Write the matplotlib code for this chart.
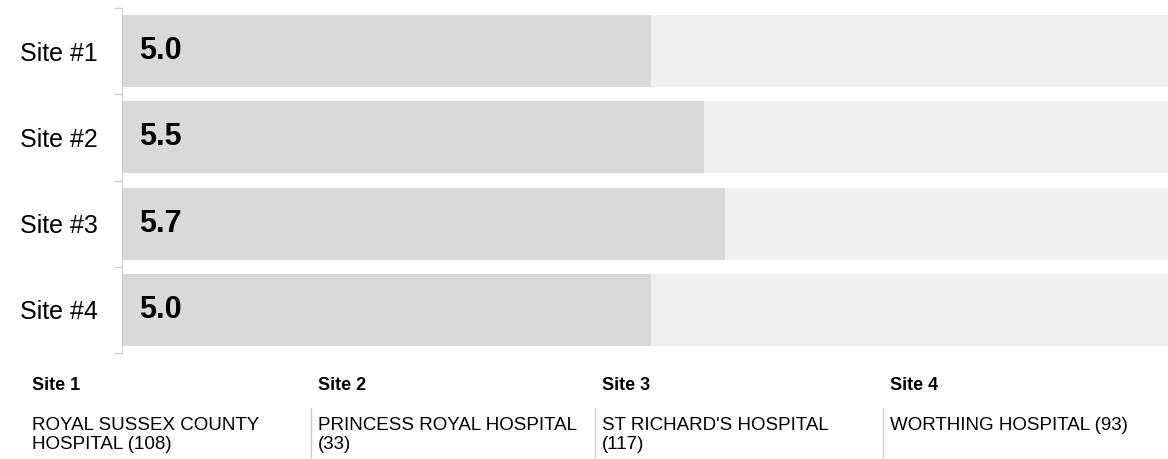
import matplotlib
matplotlib.use("Agg")
import matplotlib.pyplot as plt
from matplotlib.lines import Line2D

plt.rcParams['font.family'] = ['Liberation Sans', 'DejaVu Sans']

# data
labels = ["Site #1", "Site #2", "Site #3", "Site #4"]
values = [5.0, 5.5, 5.7, 5.0]
max_value = 10
site_titles = ["Site 1", "Site 2", "Site 3", "Site 4"]
hospitals = ["ROYAL SUSSEX COUNTY\nHOSPITAL (108)",
             "PRINCESS ROYAL HOSPITAL\n(33)",
             "ST RICHARD'S HOSPITAL\n(117)",
             "WORTHING HOSPITAL (93)"]

W, H = 1168, 459
fig = plt.figure(figsize=(W / 100, H / 100), dpi=100)
ax = fig.add_axes([123 / W, 1 - 353 / H, 1 - 123 / W, 345 / H])

pos = list(range(len(labels)))
ax.barh(pos, [max_value] * len(values), height=0.835, color="#f0f0f0", zorder=1)
ax.barh(pos, values, height=0.835, color="#d9d9d9", zorder=2)

for y, v in zip(pos, values):
    ax.annotate(f"{v:.1f}", xy=(0, y), xytext=(11.5, 0), textcoords="offset points",
                ha="left", va="center", fontsize=22, fontweight="bold", color="#000000", zorder=3)

ax.set_xlim(0, 9.9)
ax.set_ylim(len(labels) - 0.5, -0.5)
ax.set_yticks(pos)
ax.set_yticklabels(labels)
ax.tick_params(axis="y", which="major", length=0, pad=17, labelsize=18)
ax.set_yticks([p - 0.5 for p in pos] + [len(labels) - 0.5], minor=True)
ax.tick_params(axis="y", which="minor", length=5.5, color="#cccccc", width=1)
ax.set_xticks([])
for s in ["top", "right", "bottom"]:
    ax.spines[s].set_visible(False)
ax.spines["left"].set_color("#cccccc")
ax.spines["left"].set_position(("outward", 1))

# site legend row underneath
col_x = [25, 311, 595, 883]
for i, (t, h) in enumerate(zip(site_titles, hospitals)):
    x = col_x[i] + 7
    fig.text(x / W, 1 - 386 / H, t, fontsize=13, fontweight="bold", ha="left", va="center")
    fig.text(x / W, 1 - 417 / H, h, fontsize=13.5, ha="left", va="top", linespacing=1.15)
    if i > 0:
        fig.add_artist(Line2D([col_x[i] / W] * 2, [1 - 408 / H, 0], color="#cccccc", lw=1))

fig.savefig("out.png", dpi=100, facecolor="white")
